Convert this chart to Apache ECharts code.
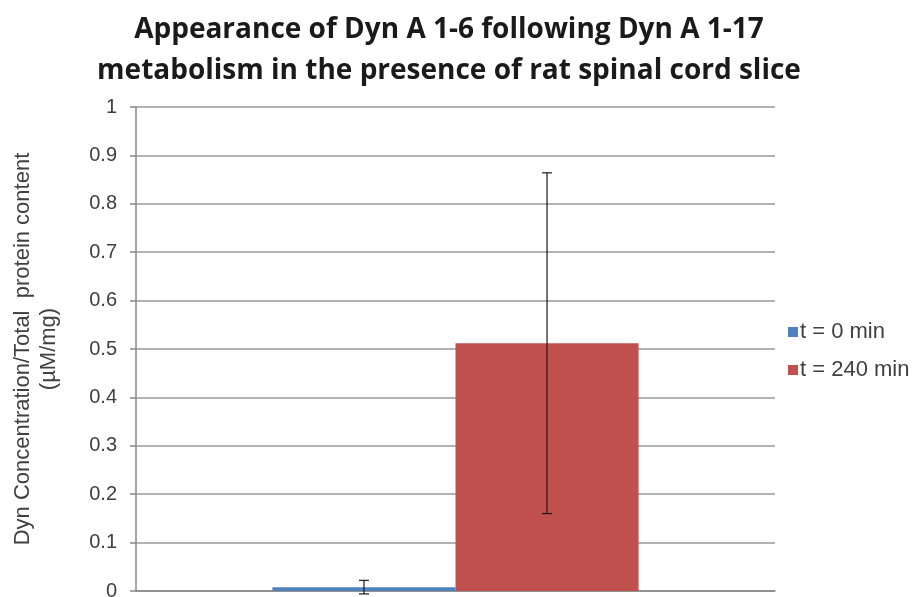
<!DOCTYPE html>
<html>
<head>
<meta charset="utf-8">
<script src="https://cdn.jsdelivr.net/npm/echarts@6/dist/echarts.min.js"></script>
<style>
  html, body { margin: 0; padding: 0; background: #fff; }
  #chart { width: 920px; height: 597px; }
</style>
</head>
<body>
<div id="chart"></div>
<script>
// Dyn A 1-6 levels measured after Dyn A 1-17 incubation with rat spinal cord slices
const categories = [''];
const seriesNames = ['t = 0 min', 't = 240 min'];
const meanValues = [0.008, 0.512];
const errorValues = [0.014, 0.352];
const seriesColors = ['#4F81BD', '#C0504D'];
const yTicks = [0, 0.1, 0.2, 0.3, 0.4, 0.5, 0.6, 0.7, 0.8, 0.9, 1];

const catGap = 0.427; // share of the category left empty around the bars

const chart = echarts.init(document.getElementById('chart'));

const barSeries = seriesNames.map((name, i) => ({
  name: name,
  type: 'bar',
  data: [meanValues[i]],
  itemStyle: { color: seriesColors[i] },
  barGap: '0%',
  barCategoryGap: (catGap * 100).toFixed(1) + '%',
  silent: true
}));

// whiskers: one custom series, positioned from the category band width
const errorSeries = {
  type: 'custom',
  silent: true,
  z: 10,
  data: meanValues.map((v, i) => [0, v, errorValues[i], i]),
  renderItem: function (params, api) {
    const idx = api.value(3);
    const mean = api.value(1);
    const err = api.value(2);
    const band = api.size([1, 0])[0];
    const barW = band * (1 - catGap) / seriesNames.length;
    const center = api.coord([0, mean]);
    const x = center[0] + (idx - (seriesNames.length - 1) / 2) * barW;
    const top = api.coord([0, mean + err])[1];
    const bot = api.coord([0, mean - err])[1];
    const cap = 5;
    const style = { stroke: '#1a1a1a', lineWidth: 1.2 };
    return {
      type: 'group',
      children: [
        { type: 'line', shape: { x1: x, y1: top, x2: x, y2: bot }, style: style },
        { type: 'line', shape: { x1: x - cap, y1: top, x2: x + cap, y2: top }, style: style },
        { type: 'line', shape: { x1: x - cap, y1: bot, x2: x + cap, y2: bot }, style: style }
      ]
    };
  }
};

chart.setOption({
  animation: false,
  backgroundColor: '#fff',
  title: {
    text: 'Appearance of Dyn A 1-6 following Dyn A 1-17\nmetabolism in the presence of rat spinal cord slice',
    left: 444,
    top: 5,
    textAlign: 'center',
    textStyle: {
      fontFamily: 'Open Sans',
      fontWeight: 'bold',
      fontSize: 28,
      lineHeight: 41,
      color: '#1a1a1a'
    }
  },
  legend: {
    orient: 'vertical',
    left: 783,
    top: 316,
    itemWidth: 10,
    itemHeight: 10,
    itemGap: 16,
    icon: 'rect',
    data: seriesNames,
    textStyle: { fontFamily: 'Liberation Sans', fontSize: 22, color: '#404040', padding: [0, 0, 0, -3] }
  },
  grid: { left: 136, right: 145, top: 107, bottom: 6, containLabel: false, outerBoundsMode: 'none' },
  xAxis: {
    type: 'category',
    data: categories,
    axisLine: { lineStyle: { color: '#888', width: 1.5 } },
    axisTick: { show: false },
    axisLabel: { show: false }
  },
  yAxis: {
    type: 'value',
    min: yTicks[0],
    max: yTicks[yTicks.length - 1],
    interval: 0.1,
    name: 'Dyn Concentration/Total  protein content\n(µM/mg)',
    nameLocation: 'middle',
    nameRotate: 90,
    nameGap: 74,
    nameTextStyle: { fontFamily: 'Liberation Sans', fontSize: 22, color: '#404040', lineHeight: 26 },
    axisLine: { show: true, lineStyle: { color: '#888', width: 1.5 } },
    axisTick: { show: true, length: 6, lineStyle: { color: '#888', width: 1.5 } },
    axisLabel: {
      margin: 19,
      fontFamily: 'Liberation Sans',
      fontSize: 20,
      color: '#404040',
      formatter: v => String(Math.round(v * 10) / 10)
    },
    splitLine: { lineStyle: { color: '#999', width: 1.5 } }
  },
  series: barSeries.concat([errorSeries])
});
</script>
</body>
</html>
